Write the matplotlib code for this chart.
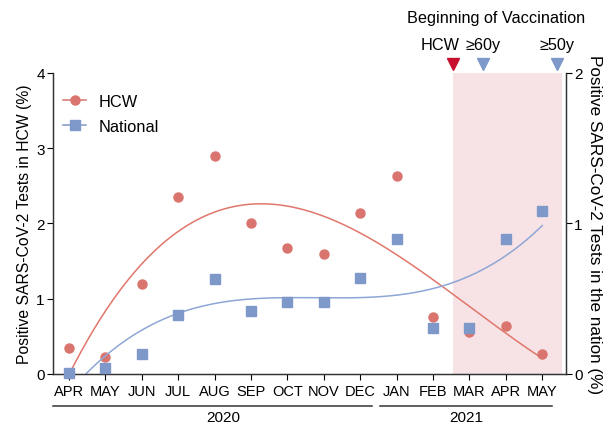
import matplotlib.pyplot as plt
import matplotlib.transforms as mtransforms
import numpy as np

plt.rcParams['font.family'] = ['Liberation Sans', 'DejaVu Sans']

# --- DATA ---
months = ['APR', 'MAY', 'JUN', 'JUL', 'AUG', 'SEP', 'OCT', 'NOV', 'DEC',
          'JAN', 'FEB', 'MAR', 'APR', 'MAY']
hcw = [0.34, 0.22, 1.20, 2.35, 2.90, 2.00, 1.67, 1.60, 2.14,
       2.63, 0.76, 0.56, 0.64, 0.27]
national = [0.005, 0.038, 0.13, 0.39, 0.63, 0.42, 0.48, 0.48, 0.64,
            0.895, 0.305, 0.305, 0.90, 1.08]
years = ['2020', '2021']
vacc_labels = ['HCW', '≥60y', '≥50y']
vacc_pos = [10.55, 11.38, 13.4]

c_hcw = '#d9746e'
c_nat = '#7d98c9'
c_hcw_line = '#e0766c'
c_nat_line = '#8ea6d6'

x = np.arange(len(months))

fig = plt.figure(figsize=(6.12, 4.27), dpi=100)
ax1 = fig.add_axes([0.0866, 0.1218, 0.8382, 0.7049])
ax2 = ax1.twinx()

# vaccination period shading
ax1.axvspan(10.55, 13.54, color='#f7e3e5', zorder=0, lw=0)

# cubic trend lines
xf = np.linspace(0, 13, 300)
p_hcw = np.polyfit(x, hcw, 3)
p_nat = np.polyfit(x, national, 3)
ax1.plot(xf, np.polyval(p_hcw, xf), color=c_hcw_line, lw=1.1, zorder=2)
ax2.plot(xf, np.polyval(p_nat, xf), color=c_nat_line, lw=1.1, zorder=2)

ax1.plot(x, hcw, 'o', color=c_hcw, ms=6.5, zorder=3, clip_on=False)
ax2.plot(x, national, 's', color=c_nat, ms=6.5, zorder=3, clip_on=False)

ax1.set_xlim(-0.44, 13.65)
ax1.set_ylim(0, 4)
ax2.set_ylim(0, 2)
ax1.set_yticks([0, 1, 2, 3, 4])
ax2.set_yticks([0, 1, 2])
ax1.set_xticks(x)
ax1.set_xticklabels(months, fontsize=10.5)
ax1.tick_params(axis='y', labelsize=11, length=4, width=0.8, pad=2)
ax2.tick_params(axis='y', labelsize=11, length=4, width=0.8, pad=2)
ax1.tick_params(axis='x', length=4, width=0.8, pad=3)

for ax in (ax1, ax2):
    ax.spines['top'].set_visible(False)
    for s in ('left', 'right', 'bottom'):
        ax.spines[s].set_color('#333333')
        ax.spines[s].set_linewidth(0.9)

ax1.set_ylabel('Positive SARS-CoV-2 Tests in HCW (%)', fontsize=11.3, labelpad=3)
ax2.set_ylabel('Positive SARS-CoV-2 Tests in the nation (%)', fontsize=12.3,
               rotation=270, labelpad=14)

# legend
h1, = ax1.plot([], [], '-o', color=c_hcw, ms=6.5, lw=1.1)
h2, = ax1.plot([], [], '-s', color=c_nat, ms=6.5, lw=1.1)
ax1.legend([h1, h2], ['HCW', 'National'], loc='upper left', frameon=False,
           fontsize=11.8, bbox_to_anchor=(0.007, 0.952), handlelength=1.4,
           handletextpad=0.75, labelspacing=0.62, borderaxespad=0)

# year brackets under the axis
trans = mtransforms.blended_transform_factory(ax1.transData, ax1.transAxes)
year_spans = [(-0.44, 8.32), (8.54, 13.27)]
for (a, b), label in zip(year_spans, years):
    ax1.plot([a, b], [-0.106, -0.106], color='#333333', lw=1.1,
             transform=trans, clip_on=False)
    ax1.text((a + b) / 2 + (0.3 if label == '2020' else 0.0), -0.143, label,
             transform=trans, ha='center', va='center', fontsize=11)

# vaccination markers above the plot
tri_colors = ['#c8102e', c_nat, c_nat]
for pos, label, col in zip(vacc_pos, vacc_labels, tri_colors):
    ax1.plot(pos, 1.03, marker='v', color=col, ms=9, transform=trans,
             clip_on=False)
    ax1.text(pos - (0.36 if label == 'HCW' else 0), 1.096, label, transform=trans,
             ha='center', va='center', fontsize=11.7)
ax1.text(11.73, 1.186, 'Beginning of Vaccination', transform=trans,
         ha='center', va='center', fontsize=11.7)

fig.savefig('out.png', dpi=100)
